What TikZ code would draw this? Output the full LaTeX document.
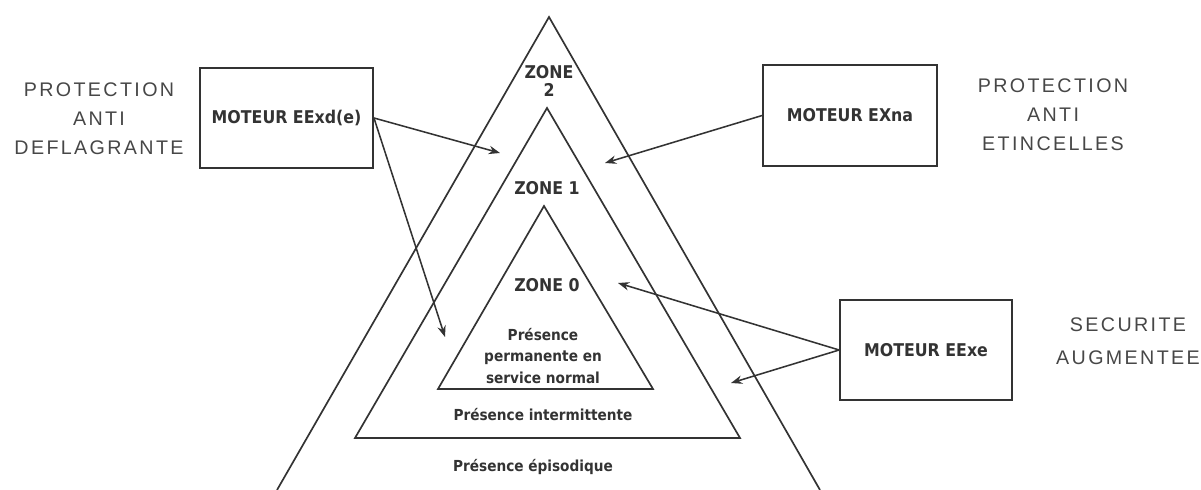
\documentclass[tikz,border=0pt]{standalone}
\usepackage{fontspec}
\usetikzlibrary{arrows.meta}
\setmainfont{Liberation Sans}
\newfontfamily\zonefont{DejaVu Sans Condensed}
\newfontfamily\handfont[LetterSpace=12]{Liberation Sans}
\definecolor{ink}{HTML}{333333}

\begin{document}
\begin{tikzpicture}[x=0.025cm, y=-0.025cm,
  trait/.style={line width=1.2pt, draw=ink},
  moteur/.style={trait, minimum height=2.5cm, text=ink,
    font=\zonefont\bfseries\fontsize{12.5}{14}\selectfont},
  zone/.style={text=ink, align=center,
    font=\zonefont\bfseries\fontsize{12.5}{12.8}\selectfont},
  presence/.style={text=ink, align=center,
    font=\zonefont\bfseries\fontsize{10.8}{15.6}\selectfont},
  mode/.style={text=ink!90, align=center,
    font=\handfont\fontsize{14}{20.6}\selectfont},
  fleche/.style={trait, line width=1.1pt, -{Stealth[length=8pt,width=6pt]}}]

\useasboundingbox (0,0) rectangle (1201,490);

% les trois zones
\draw[trait] (277,490) -- (549,17) -- (820,490);
\draw[trait] (547,108) -- (740,438) -- (355,438) -- cycle;
\draw[trait] (544,206) -- (653,389) -- (438,389) -- cycle;

\node[zone] (z2) at (549,81) {ZONE\\2};
\node[zone] (z1) at (547,188) {ZONE 1};
\node[zone] (z0) at (547,285) {ZONE 0};
\node[presence] (p0) at (543,356) {Présence\\permanente en\\service normal};
\node[presence] (p1) at (543,415) {Présence intermittente};
\node[presence] (p2) at (533,467) {Présence épisodique};

% moteurs
\node[moteur, minimum width=4.33cm] (eexd) at (286.5,118) {MOTEUR EExd(e)};
\node[moteur, minimum width=4.35cm, minimum height=2.52cm] (exna) at (850,115.5) {MOTEUR EXna};
\node[moteur, minimum width=4.3cm] (eexe) at (926,350) {MOTEUR EExe};

\node[mode] (deflag) at (99,119) {PROTECTION\\ANTI\\DEFLAGRANTE};
\node[mode] (etinc) at (1053,115) {PROTECTION\\ANTI\\ETINCELLES};
\node[mode, font=\handfont\fontsize{14}{23.5}\selectfont] (secu) at (1128,341) {SECURITE\\AUGMENTEE};

% fleches
\coordinate (c2g) at (500,153);
\coordinate (c1g) at (445,337);
\coordinate (c2d) at (605,163);
\coordinate (c0d) at (618,283);
\coordinate (c1d) at (731,383);
\draw[fleche] (eexd.east) -- (c2g);
\draw[fleche] (eexd.east) -- (c1g);
\draw[fleche] (exna.west) -- (c2d);
\draw[fleche] (eexe.west) -- (c0d);
\draw[fleche] (eexe.west) -- (c1d);
\end{tikzpicture}
\end{document}
